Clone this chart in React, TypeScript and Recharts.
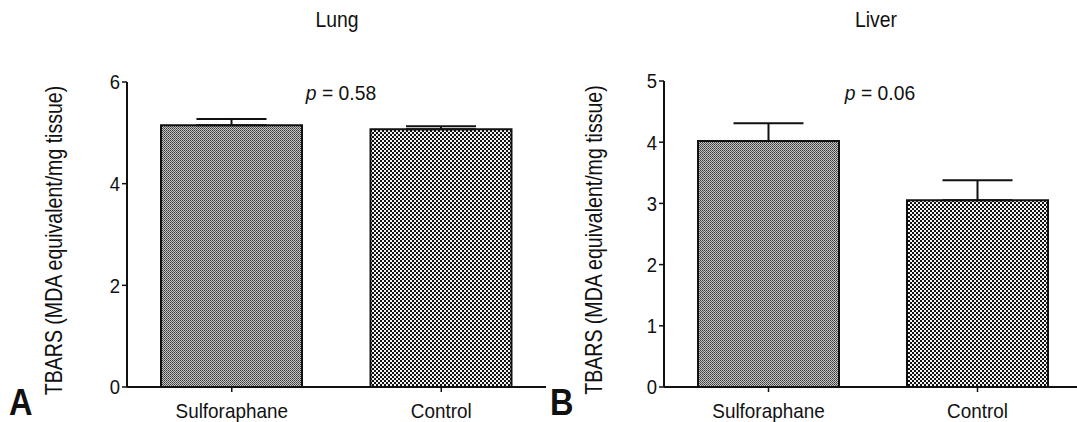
import { Bar, BarChart, Cell, ErrorBar, XAxis, YAxis } from 'recharts';

const categories = ['Sulforaphane', 'Control'];
const lungMeans = [5.15, 5.07];
const lungSem = [0.12, 0.06];
const liverMeans = [4.02, 3.05];
const liverSem = [0.29, 0.33];
const lungTicks = [0, 2, 4, 6];
const liverTicks = [0, 1, 2, 3, 4, 5];
const yTitle = 'TBARS (MDA equivalent/mg tissue)';

const FONT = "'Liberation Sans', Arial, sans-serif";
const INK = '#111';

function buildRows(means: number[], sem: number[]) {
  // lower error is 0: only the upper whisker shows above each bar
  return categories.map((name, i) => ({ name, value: means[i], err: [0, sem[i]] }));
}

// the source figure uses a condensed face, so squeeze the text horizontally
function NarrowText({
  x,
  y,
  size,
  squeeze = 0.88,
  anchor = 'middle',
  weight,
  rotate,
  dy,
  children,
}: {
  x: number;
  y: number;
  size: number;
  squeeze?: number;
  anchor?: string;
  weight?: string;
  rotate?: number;
  dy?: string;
  children: any;
}) {
  const rot = rotate ? ` rotate(${rotate})` : '';
  return (
    <text
      transform={`translate(${x} ${y})${rot} scale(${squeeze} 1)`}
      textAnchor={anchor}
      fontSize={size}
      fontWeight={weight}
      fontFamily={FONT}
      fill={INK}
      dy={dy}
    >
      {children}
    </text>
  );
}

function XTick(props: any) {
  const { x, y, payload } = props;
  return (
    <NarrowText x={x} y={y} size={21} squeeze={0.9} dy="0.71em">
      {payload.value}
    </NarrowText>
  );
}

function YTick(props: any) {
  const { x, y, payload } = props;
  return (
    <NarrowText x={x} y={y} size={21} squeeze={0.88} anchor="end" dy="0.355em">
      {payload.value}
    </NarrowText>
  );
}

function YTitle(props: any) {
  const vb = props.viewBox || { x: 0, y: 0, width: 0, height: 0 };
  const cx = vb.x + 54;
  const cy = vb.y + vb.height / 2 + 6;
  return (
    <NarrowText x={cx} y={cy} size={23} squeeze={0.85} rotate={-90} dy="0.35em">
      {yTitle}
    </NarrowText>
  );
}

function Patterns({ prefix }: { prefix: string }) {
  return (
    <defs>
      <pattern id={`${prefix}-fine`} width={2} height={2} patternUnits="userSpaceOnUse">
        <rect width={2} height={2} fill="#c4c4c4" />
        <rect width={1} height={1} fill="#3a3a3a" />
        <rect x={1} y={1} width={1} height={1} fill="#5a5a5a" />
      </pattern>
      <pattern id={`${prefix}-coarse`} width={4} height={4} patternUnits="userSpaceOnUse">
        <rect width={4} height={4} fill="#f4f4f4" />
        <rect width={2} height={2} fill="#111" />
        <rect x={2} y={2} width={2} height={2} fill="#111" />
      </pattern>
    </defs>
  );
}

type PanelProps = {
  prefix: string;
  means: number[];
  sem: number[];
  ticks: number[];
  width: number;
  top: number;
  yWidth: number;
};

function Panel({ prefix, means, sem, ticks, width, top, yWidth }: PanelProps) {
  const rows = buildRows(means, sem);
  return (
    <BarChart width={width} height={422} data={rows} margin={{ top, right: 0, bottom: 0, left: 0 }}>
      <Patterns prefix={prefix} />
      <XAxis
        dataKey="name"
        height={35}
        tick={<XTick />}
        tickSize={5}
        tickMargin={11}
        axisLine={{ stroke: INK, strokeWidth: 2 }}
        tickLine={{ stroke: INK, strokeWidth: 1.5 }}
      />
      <YAxis
        width={yWidth}
        domain={[0, ticks[ticks.length - 1]]}
        ticks={ticks}
        tick={<YTick />}
        tickSize={5}
        tickMargin={2}
        axisLine={{ stroke: INK, strokeWidth: 2 }}
        tickLine={{ stroke: INK, strokeWidth: 1.5 }}
        label={<YTitle />}
      />
      <Bar dataKey="value" barSize={141} stroke={INK} strokeWidth={2} isAnimationActive={false}>
        {rows.map((r, i) => (
          <Cell key={r.name} fill={`url(#${prefix}-${i === 0 ? 'fine' : 'coarse'})`} />
        ))}
        <ErrorBar dataKey="err" direction="y" width={35} stroke={INK} strokeWidth={2} isAnimationActive={false} />
      </Bar>
    </BarChart>
  );
}

export default function App() {
  return (
    <div
      style={{
        position: 'absolute',
        left: 0,
        top: 0,
        width: 1077,
        height: 422,
        overflow: 'hidden',
        background: '#fff',
      }}
    >
      <div style={{ position: 'absolute', left: 0, top: 0 }}>
        <Panel prefix="lung" means={lungMeans} sem={lungSem} ticks={lungTicks} width={546} top={82} yWidth={127} />
      </div>
      <div style={{ position: 'absolute', left: 540, top: 0 }}>
        <Panel prefix="liver" means={liverMeans} sem={liverSem} ticks={liverTicks} width={542} top={81} yWidth={124} />
      </div>
      <svg
        width={1077}
        height={422}
        style={{ position: 'absolute', left: 0, top: 0, pointerEvents: 'none' }}
      >
        <NarrowText x={337} y={27} size={22}>Lung</NarrowText>
        <NarrowText x={876} y={27} size={22}>Liver</NarrowText>
        <NarrowText x={341} y={100} size={21} squeeze={0.92}>
          <tspan fontStyle="italic">p</tspan> = 0.58
        </NarrowText>
        <NarrowText x={880} y={100} size={21} squeeze={0.92}>
          <tspan fontStyle="italic">p</tspan> = 0.06
        </NarrowText>
        <NarrowText x={9} y={415} size={37} weight="bold" anchor="start">A</NarrowText>
        <NarrowText x={550} y={415} size={37} weight="bold" anchor="start">B</NarrowText>
      </svg>
    </div>
  );
}
